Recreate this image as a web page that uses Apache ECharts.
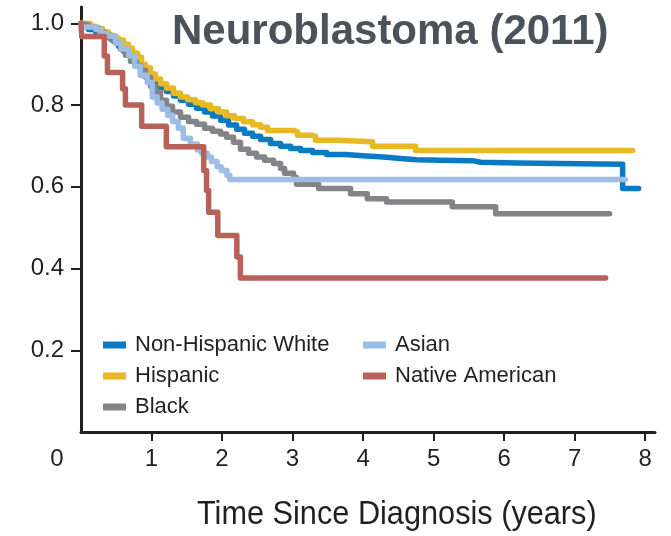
<!DOCTYPE html>
<html><head><meta charset="utf-8">
<script src="https://cdn.jsdelivr.net/npm/echarts@6/dist/echarts.min.js"></script>
<style>html,body{margin:0;padding:0;background:#fff}#c{width:671px;height:536px}</style>
</head><body><div id="c"></div>
<script>
const titleText = 'Neuroblastoma (2011)';
const xAxisTitle = 'Time Since Diagnosis (years)';
const xTickValues = [1, 2, 3, 4, 5, 6, 7, 8];
const xLabelValues = [0, 1, 2, 3, 4, 5, 6, 7, 8];
const yTickValues = [0.2, 0.4, 0.6, 0.8, 1.0];
const groupNames = ['Non-Hispanic White', 'Hispanic', 'Black', 'Asian', 'Native American'];
const groupColors = ['#0a7bc1', '#e8b923', '#838488', '#9dbde6', '#b8605a'];

// Non-Hispanic White
const nhwTime = [0, 0.021, 0.106, 0.206, 0.305, 0.390, 0.461, 0.532, 0.603, 0.674, 0.745, 0.816, 0.887, 0.972, 1.057, 1.128, 1.213, 1.312, 1.411, 1.525, 1.638, 1.752, 1.865, 1.979, 2.092, 2.206, 2.319, 2.433, 2.546, 2.688, 2.830, 2.972, 3.113, 3.284, 3.482, 3.752, 3.993, 4.291, 4.532, 4.759, 5.099, 5.553, 5.667, 6.191, 7.681, 7.908];
const nhwSurv = [1.0, 0.993, 0.985, 0.980, 0.974, 0.966, 0.956, 0.944, 0.932, 0.922, 0.910, 0.897, 0.883, 0.868, 0.856, 0.843, 0.833, 0.822, 0.812, 0.802, 0.792, 0.783, 0.773, 0.763, 0.751, 0.741, 0.731, 0.724, 0.716, 0.706, 0.699, 0.694, 0.689, 0.684, 0.679, 0.676, 0.673, 0.669, 0.666, 0.665, 0.664, 0.660, 0.658, 0.655, 0.596, 0.596];

// Hispanic
const hisTime = [0, 0.050, 0.135, 0.206, 0.305, 0.390, 0.461, 0.532, 0.603, 0.674, 0.730, 0.801, 0.858, 0.915, 0.986, 1.057, 1.128, 1.213, 1.312, 1.411, 1.511, 1.624, 1.723, 1.837, 1.950, 2.064, 2.177, 2.305, 2.433, 2.546, 2.645, 3.014, 3.071, 3.284, 3.326, 3.638, 4.135, 4.745, 7.823];
const hisSurv = [1.0, 0.999, 0.993, 0.987, 0.978, 0.971, 0.964, 0.959, 0.949, 0.939, 0.927, 0.917, 0.900, 0.891, 0.876, 0.864, 0.852, 0.842, 0.829, 0.820, 0.813, 0.806, 0.800, 0.791, 0.783, 0.774, 0.767, 0.759, 0.752, 0.746, 0.738, 0.734, 0.726, 0.724, 0.714, 0.710, 0.699, 0.689, 0.689];

// Black
const blkTime = [0, 0.021, 0.106, 0.163, 0.262, 0.348, 0.418, 0.489, 0.560, 0.631, 0.702, 0.773, 0.844, 0.915, 0.986, 1.057, 1.128, 1.213, 1.298, 1.411, 1.525, 1.638, 1.752, 1.865, 1.979, 2.064, 2.163, 2.262, 2.376, 2.489, 2.603, 2.730, 2.830, 2.887, 3.014, 3.057, 3.369, 3.823, 4.060, 4.333, 5.265, 5.880, 7.496];
const blkSurv = [1.0, 0.996, 0.991, 0.988, 0.978, 0.971, 0.961, 0.951, 0.937, 0.922, 0.907, 0.897, 0.885, 0.868, 0.846, 0.832, 0.812, 0.797, 0.783, 0.770, 0.760, 0.753, 0.743, 0.736, 0.729, 0.721, 0.709, 0.692, 0.682, 0.673, 0.665, 0.657, 0.645, 0.633, 0.623, 0.606, 0.596, 0.583, 0.571, 0.563, 0.551, 0.534, 0.534];

// Asian
const asiTime = [0, 0.02, 0.21, 0.28, 0.37, 0.49, 0.57, 0.68, 0.76, 0.84, 0.94, 1.01, 1.08, 1.15, 1.23, 1.30, 1.38, 1.45, 1.55, 1.65, 1.71, 1.79, 1.85, 1.93, 1.99, 2.07, 2.11, 7.72];
const asiSurv = [1.0, 0.991, 0.985, 0.975, 0.969, 0.952, 0.937, 0.920, 0.895, 0.873, 0.855, 0.820, 0.805, 0.790, 0.775, 0.760, 0.743, 0.719, 0.705, 0.690, 0.682, 0.673, 0.662, 0.649, 0.640, 0.628, 0.618, 0.618];

// Native American
const natTime = [0, 0.01, 0.33, 0.375, 0.59, 0.63, 0.86, 1.21, 1.74, 1.78, 1.81, 1.94, 2.21, 2.26, 7.44];
const natSurv = [1.0, 0.968, 0.920, 0.880, 0.840, 0.800, 0.748, 0.698, 0.640, 0.591, 0.538, 0.481, 0.428, 0.377, 0.377];

const groupTimes = [nhwTime, hisTime, blkTime, asiTime, natTime];
const groupSurvs = [nhwSurv, hisSurv, blkSurv, asiSurv, natSurv];

const FONT = "'Liberation Sans', Arial, sans-serif";
const INK = '#231f20';

const chart = echarts.init(document.getElementById('c'), null, {renderer: 'canvas'});

const series = groupNames.map((name, g) => ({
  name: name,
  type: 'line',
  step: 'end',
  showSymbol: false,
  symbol: 'none',
  color: groupColors[g],
  lineStyle: {color: groupColors[g], width: 5.5, cap: 'round', join: 'round'},
  data: groupTimes[g].map((t, i) => [t, groupSurvs[g][i]]),
  z: 2 + g
}));

const legendBase = {
  orient: 'vertical',
  itemWidth: 23,
  itemHeight: 7,
  itemGap: 9,
  icon: 'rect',
  selectedMode: false,
  padding: 0,
  formatter: '{t|{name}}',
  textStyle: {
    fontSize: 22, color: INK, fontFamily: FONT,
    rich: {t: {fontSize: 22, color: INK, fontFamily: FONT, padding: [0, 0, 0, 4]}}
  }
};

chart.setOption({
  animation: false,
  backgroundColor: '#ffffff',
  grid: {left: 81, right: 16, top: 7, bottom: 104, containLabel: false},
  xAxis: {
    type: 'value', min: 0, max: 8.14,
    splitLine: {show: false},
    axisLine: {lineStyle: {color: INK, width: 3}},
    axisTick: {customValues: xTickValues, length: 9, lineStyle: {color: INK, width: 2}},
    axisLabel: {
      customValues: xLabelValues, margin: 15, fontSize: 24, color: INK, fontFamily: FONT,
      formatter: v => v === 0 ? '{o|0}' : String(v),
      rich: {o: {fontSize: 24, color: INK, fontFamily: FONT, padding: [0, 48, 0, 0]}}
    }
  },
  yAxis: {
    type: 'value', min: 0, max: 1.04,
    splitLine: {show: false},
    axisLine: {lineStyle: {color: INK, width: 3}},
    axisTick: {customValues: yTickValues, length: 10, lineStyle: {color: INK, width: 2}},
    axisLabel: {
      customValues: yTickValues, margin: 17, fontSize: 24, color: INK, fontFamily: FONT,
      formatter: v => v.toFixed(1)
    }
  },
  legend: [
    Object.assign({}, legendBase, {data: groupNames.slice(0, 3), left: 103, top: 334}),
    Object.assign({}, legendBase, {data: groupNames.slice(3), left: 363, top: 334})
  ],
  graphic: [
    {type: 'text', x: 172, y: 32, z: 10,
     style: {text: titleText, fill: '#4b5259', font: "bold 42px 'Liberation Sans', Arial, sans-serif",
             textAlign: 'left', textVerticalAlign: 'middle'}},
    {type: 'text', x: 197, y: 515, scaleX: 0.93, z: 10,
     style: {text: xAxisTitle, fill: INK, font: "33px 'Liberation Sans', Arial, sans-serif",
             textAlign: 'left', textVerticalAlign: 'middle'}}
  ],
  series: series
});
</script>
</body></html>
